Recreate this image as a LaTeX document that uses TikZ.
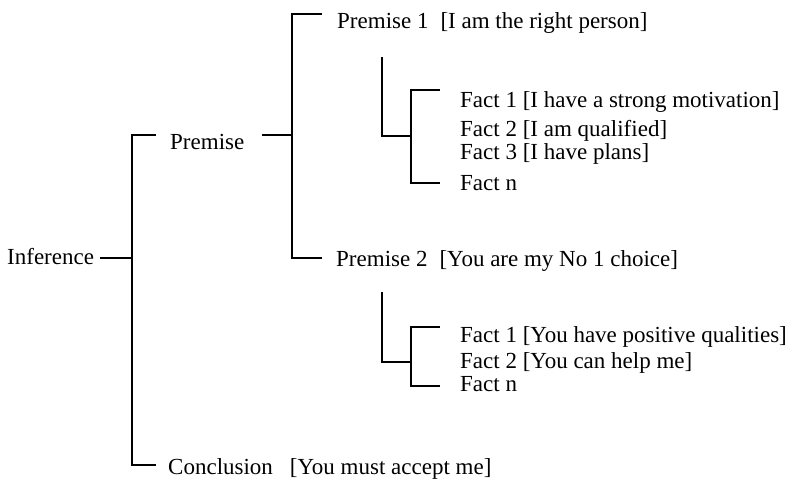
\documentclass[tikz,border=0pt]{standalone}
\usepackage{fontspec}
\setmainfont{Liberation Serif}
\begin{document}
\begin{tikzpicture}[x=1pt,y=-1pt,
  lbl/.style={anchor=base west,inner sep=0pt,font=\fontsize{23}{27}\selectfont},
  conn/.style={line width=1.3pt,line cap=butt}]
\useasboundingbox (0,0) rectangle (790,479);
% text nodes
\node[lbl] (inf) at (7,264) {Inference};
\node[lbl] (prem) at (170,149) {Premise};
\node[lbl] (concl) at (168,474) {Conclusion\hspace{17pt}[You must accept me]};
\node[lbl] (p1) at (337,28) {Premise 1\hspace{12pt}[I am the right person]};
\node[lbl] (p2) at (336,266) {Premise 2\hspace{12pt}[You are my No 1 choice]};
\node[lbl] (f11) at (460,107) {Fact 1 [I have a strong motivation]};
\node[lbl] (f12) at (460,136) {Fact 2 [I am qualified]};
\node[lbl] (f13) at (460,159) {Fact 3 [I have plans]};
\node[lbl] (f1n) at (460,190) {Fact n};
\node[lbl] (f21) at (460,342) {Fact 1 [You have positive qualities]};
\node[lbl] (f22) at (460,368) {Fact 2 [You can help me]};
\node[lbl] (f2n) at (460,391) {Fact n};
% junction coordinates
\coordinate (infR) at (100,258);
\coordinate (mTop) at (132,135);
\coordinate (mMid) at (132,258);
\coordinate (mBot) at (132,465);
\coordinate (premL) at (156,135);
\coordinate (conL) at (156,465);
\coordinate (premR) at (262,135);
\coordinate (sMid) at (292,135);
\coordinate (sTop) at (292,14);
\coordinate (sBot) at (292,258);
\coordinate (p1L) at (322,14);
\coordinate (p2L) at (322,258);
% fact group 1
\coordinate (aTop) at (382,57);
\coordinate (aJ) at (382,136);
\coordinate (bJ) at (411,136);
\coordinate (bTop) at (411,90);
\coordinate (bBot) at (411,183);
\coordinate (bTopR) at (440,90);
\coordinate (bBotR) at (440,183);
% fact group 2
\coordinate (cTop) at (382,292);
\coordinate (cJ) at (382,362);
\coordinate (dJ) at (411,362);
\coordinate (dTop) at (411,327);
\coordinate (dBot) at (411,386);
\coordinate (dTopR) at (440,327);
\coordinate (dBotR) at (440,386);
% connectors
\draw[conn] (infR) -- (mMid);
\draw[conn] (premL) -- (mTop) -- (mBot) -- (conL);
\draw[conn] (premR) -- (sMid);
\draw[conn] (p1L) -- (sTop) -- (sBot) -- (p2L);
\draw[conn] (aTop) -- (aJ) -- (bJ);
\draw[conn] (bTopR) -- (bTop) -- (bBot) -- (bBotR);
\draw[conn] (cTop) -- (cJ) -- (dJ);
\draw[conn] (dTopR) -- (dTop) -- (dBot) -- (dBotR);
\end{tikzpicture}
\end{document}
